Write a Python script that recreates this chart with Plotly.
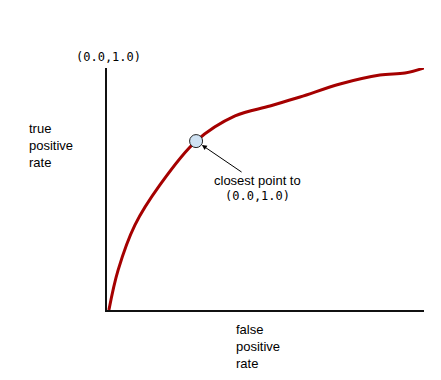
import plotly.graph_objects as go

# ROC-like curve (false positive rate vs true positive rate)
fpr = [0.006, 0.035, 0.088, 0.167, 0.281, 0.404, 0.514, 0.609, 0.735, 0.861, 0.940, 1.0]
tpr = [0.0, 0.165, 0.351, 0.517, 0.698, 0.802, 0.843, 0.880, 0.934, 0.971, 0.979, 1.0]

closest_fpr = [0.281]
closest_tpr = [0.698]

corner_label = "(0.0,1.0)"
y_label = "true<br>positive<br>rate"
x_label = "false<br>positive<br>rate"
note_line1 = "closest point to"
note_line2 = "(0.0,1.0)"

W, H = 441, 380
L, R, T, B = 107, 17, 68, 70
pw, ph = W - L - R, H - T - B

def px(xp):
    return (xp - L) / pw

def py(yp):
    return (H - B - yp) / ph

fig = go.Figure()
fig.add_trace(go.Scatter(x=fpr, y=tpr, mode="lines", line=dict(color="#a50000", width=3, shape="spline", smoothing=1.0),
                         hoverinfo="skip", cliponaxis=False))
fig.add_trace(go.Scatter(x=closest_fpr, y=closest_tpr, mode="markers",
                         marker=dict(size=13, color="#cfe2f3", line=dict(color="#222222", width=1)),
                         cliponaxis=False))

mono = dict(family="DejaVu Sans Mono", size=12, color="#000000")
sans = dict(family="Liberation Sans, Arial", size=13, color="#000000")

fig.add_annotation(x=closest_fpr[0], y=closest_tpr[0], xref="x", yref="y", text="", showarrow=True,
                   ax=47, ay=32, axref="pixel", ayref="pixel", arrowhead=2, arrowsize=1, arrowwidth=1,
                   arrowcolor="#000000", standoff=7)
fig.add_annotation(x=px(257), y=py(180), xref="paper", yref="paper", text=note_line1, showarrow=False,
                   font=sans, xanchor="center", yanchor="middle")
fig.add_annotation(x=px(257), y=py(196), xref="paper", yref="paper", text=note_line2, showarrow=False,
                   font=mono, xanchor="center", yanchor="middle")
fig.add_annotation(x=px(108), y=py(57), xref="paper", yref="paper", text=corner_label, showarrow=False,
                   font=mono, xanchor="center", yanchor="middle")
fig.add_annotation(x=px(27), y=py(145), xref="paper", yref="paper", text=y_label, showarrow=False,
                   font=sans, xanchor="left", yanchor="middle", align="left")
fig.add_annotation(x=px(234), y=py(346), xref="paper", yref="paper", text=x_label, showarrow=False,
                   font=sans, xanchor="left", yanchor="middle", align="left")

axis_common = dict(showgrid=False, zeroline=False, showticklabels=False, ticks="",
                   showline=True, linecolor="#111111", linewidth=2, fixedrange=True)
fig.update_xaxes(range=[0, 1], **axis_common)
fig.update_yaxes(range=[0, 1], **axis_common)

fig.update_layout(width=W, height=H, margin=dict(l=L, r=R, t=T, b=B), showlegend=False,
                  plot_bgcolor="white", paper_bgcolor="white")

fig.write_html("out.html", config={"displayModeBar": False})
